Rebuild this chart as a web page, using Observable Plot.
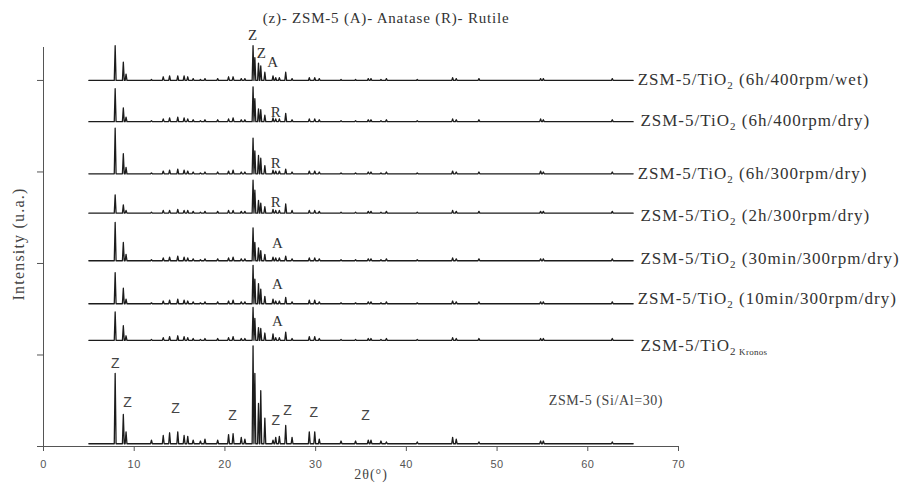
<!DOCTYPE html>
<html>
<head>
<meta charset="utf-8">
<script src="https://cdn.jsdelivr.net/npm/d3@7"></script>
<script src="https://cdn.jsdelivr.net/npm/@observablehq/plot@0.6"></script>
<style>
  html, body { margin: 0; padding: 0; background: #fff; }
  #chart svg { display: block; }
</style>
</head>
<body>
<div id="chart"></div>
<script>
// 2θ positions of the reflections
const peakPos = [7.9, 8.8, 9.1, 11.9, 13.2, 13.9, 14.8, 15.5, 15.9, 16.5, 17.3, 17.8, 19.2, 20.4, 20.9, 21.8, 22.2,
  23.1, 23.3, 23.7, 23.95, 24.4, 25.3, 25.6, 26.0, 26.7, 27.4, 29.3, 29.9, 30.4, 32.8, 34.4, 35.8, 36.1, 37.2, 37.8,
  41.2, 45.1, 45.5, 48.0, 54.8, 55.1, 62.7];

// peak heights (a.u., 100 = one y tick step) per sample
const hWet      = [38,20,7,1,4,5,5,5,4,2,1,2,2,4,4,2,2,38,25,19,16,9,5,3,3,9,2,3,3,2,1,1,2,2,1,2,1,3,2,2,2,2,2];
const hDry400   = [36,15,5,1,3,4,5,4,3,2,1,2,2,3,4,2,2,38,25,14,13,7,4,3,3,9,2,3,3,2,1,1,2,2,1,2,1,3,2,2,3,2,2];
const hDry300   = [50,22,7,1,3,4,5,4,3,2,1,2,2,3,4,2,2,39,25,20,17,9,4,3,3,5,2,3,3,2,1,1,2,2,1,2,1,3,2,2,3,2,2];
const h2h       = [20,9,3,1,3,3,4,3,3,2,1,2,2,3,3,2,2,36,25,14,11,7,4,3,3,10,3,3,3,2,1,1,2,2,1,2,1,3,2,2,2,2,2];
const h30min    = [42,20,7,1,3,4,5,4,3,2,1,2,2,3,4,2,2,36,20,14,11,7,4,3,3,5,2,3,3,2,1,1,2,2,1,2,1,3,2,2,2,2,2];
const h10min    = [34,17,5,1,3,4,5,4,3,2,1,2,2,3,4,2,2,42,27,22,16,8,5,3,3,7,2,4,4,2,1,1,2,2,1,2,1,3,2,2,2,2,2];
const hKronos   = [31,16,5,1,3,4,5,4,3,2,1,2,2,3,4,2,2,36,24,14,13,8,7,3,3,9,2,4,4,2,1,1,2,2,1,2,1,3,2,2,2,2,2];
const hZSM5     = [77,32,13,4,9,12,13,9,8,4,3,5,4,10,11,7,5,107,77,44,58,28,4,7,8,20,7,13,13,5,3,3,4,4,3,2,2,7,5,2,3,3,2];

const sampleHeights = [hWet, hDry400, hDry300, h2h, h30min, h10min, hKronos, hZSM5];
const sampleOffsets = [400, 355, 298, 255, 203, 156, 116, 3];
const sampleLabels = [
  "ZSM-5/TiO2 (6h/400rpm/wet)",
  "ZSM-5/TiO2 (6h/400rpm/dry)",
  "ZSM-5/TiO2 (6h/300rpm/dry)",
  "ZSM-5/TiO2 (2h/300rpm/dry)",
  "ZSM-5/TiO2 (30min/300rpm/dry)",
  "ZSM-5/TiO2 (10min/300rpm/dry)",
  "ZSM-5/TiO2 Kronos",
  "ZSM-5 (Si/Al=30)"
];
const labelX = [65.5, 65.8, 65.5, 65.8, 65.8, 65.5, 65.8, 55.7];
const labelY = [401, 356, 298, 252, 205, 162, 110, 50];

const scanStart = 5, scanEnd = 65;

// phase annotations
const phaseLetters = ["Z", "Z", "A", "R", "R", "R", "A", "A", "A"];
const phaseX = [23.04, 24.0, 25.25, 25.6, 25.6, 25.6, 25.8, 25.8, 25.8];
const phaseY = [449, 430, 420, 365, 310, 267, 222, 177, 137];
const zLetters = ["Z", "Z", "Z", "Z", "Z", "Z", "Z", "Z"];
const zX = [7.9, 9.26, 14.55, 20.84, 25.6, 26.9, 29.8, 35.5];
const zY = [91, 48, 42, 34, 28, 39, 37, 34];

const xTicks = [0, 10, 20, 30, 40, 50, 60, 70];
const yTicks = [0, 100, 200, 300, 400];
const titleText = "(z)- ZSM-5 (A)- Anatase (R)- Rutile";
const xLabel = "2θ(°)";
const yLabel = "Intensity (u.a.)";

// build the stick-profile polylines from the peak table
const hw = 0.1;
const rows = [];
sampleHeights.forEach((hs, s) => {
  const base = sampleOffsets[s];
  rows.push({s, x: scanStart, y: base});
  peakPos.forEach((p, i) => {
    rows.push({s, x: p - hw, y: base});
    rows.push({s, x: p, y: base + hs[i]});
    rows.push({s, x: p + hw, y: base});
  });
  rows.push({s, x: scanEnd, y: base});
});

const labels = sampleLabels.map((t, i) => ({t, x: labelX[i], y: labelY[i], i}));
const phases = phaseLetters.map((t, i) => ({t, x: phaseX[i], y: phaseY[i]}));
const zs = zLetters.map((t, i) => ({t, x: zX[i], y: zY[i]}));

const serif = "'Liberation Serif', 'DejaVu Serif', serif";
const sans = "'Liberation Sans', Arial, sans-serif";

const chart = Plot.plot({
  width: 902,
  height: 484,
  marginLeft: 43,
  marginRight: 224,
  marginTop: 47,
  marginBottom: 38,
  style: {background: "#fff", fontFamily: sans},
  x: {domain: [0, 70]},
  y: {domain: [0, 436]},
  marks: [
    Plot.ruleY([0], {x1: 0, x2: 70, stroke: "#555", strokeWidth: 1}),
    Plot.ruleX([0], {y1: 0, y2: 436, stroke: "#555", strokeWidth: 1}),
    Plot.axisX({ticks: xTicks, tickSize: 5, tickPadding: 9, fontSize: 11, label: null, stroke: "#555", fill: "#555"}),
    Plot.axisY({ticks: yTicks, tickSize: 6, tickFormat: () => "", label: null, stroke: "#555"}),
    Plot.line(rows, {x: "x", y: "y", z: "s", stroke: "#1c1c1c", strokeWidth: 1.3, curve: "linear"}),
    Plot.text(labels.filter(d => d.i < 7), {x: "x", y: "y", text: "t", textAnchor: "start", fontSize: 17, fill: "#333", fontFamily: serif}),
    Plot.text(labels.filter(d => d.i === 7), {x: "x", y: "y", text: "t", textAnchor: "start", fontSize: 14, fill: "#444", fontFamily: serif}),
    Plot.text(phases, {x: "x", y: "y", text: "t", fontSize: 15, fill: "#333", fontFamily: serif}),
    Plot.text(zs, {x: "x", y: "y", text: "t", fontSize: 14, fill: "#444", fontFamily: sans}),
    Plot.text([titleText], {frameAnchor: "top", text: d => d, dx: 25, dy: -35, fontSize: 15, fill: "#333", fontFamily: serif}),
    Plot.text([xLabel], {frameAnchor: "bottom", text: d => d, dx: 10, dy: 32, fontSize: 14, fill: "#444", fontFamily: serif}),
    Plot.text([yLabel], {frameAnchor: "left", textAnchor: "middle", text: d => d, rotate: -90, dx: -25, dy: -3, fontSize: 16, fill: "#444", fontFamily: serif})
  ]
});

document.getElementById("chart").appendChild(chart);

// letter spacing for the wide-set fonts of the original
chart.querySelectorAll("text").forEach(t => {
  const txt = t.textContent;
  if (txt.includes("ZSM-5") && txt !== titleText) t.setAttribute("letter-spacing", txt.includes("Si/Al") ? "0.6" : "1");
  if (txt === titleText) t.setAttribute("letter-spacing", "0.8");
  if (txt === yLabel) t.setAttribute("letter-spacing", "1.2");
  if (txt === xLabel) t.setAttribute("letter-spacing", "1");
  if (/^\d+$/.test(txt)) t.setAttribute("letter-spacing", "0.5");
});

// subscripts for TiO2 and Kronos
const NS = "http://www.w3.org/2000/svg";
chart.querySelectorAll("text").forEach(t => {
  const txt = t.textContent;
  const k = txt.indexOf("TiO2");
  if (k < 0) return;
  const before = txt.slice(0, k + 3);
  const after = txt.slice(k + 4);
  while (t.firstChild) t.removeChild(t.firstChild);
  const a = document.createElementNS(NS, "tspan"); a.textContent = before; t.appendChild(a);
  const sub = document.createElementNS(NS, "tspan"); sub.textContent = "2";
  sub.setAttribute("font-size", "11"); sub.setAttribute("dy", "4"); t.appendChild(sub);
  if (after.trim() === "Kronos") {
    const kr = document.createElementNS(NS, "tspan"); kr.textContent = " Kronos";
    kr.setAttribute("font-size", "9"); kr.setAttribute("dy", "0"); kr.setAttribute("letter-spacing", "0.3"); t.appendChild(kr);
  } else {
    const r = document.createElementNS(NS, "tspan"); r.textContent = after;
    r.setAttribute("dy", "-4"); t.appendChild(r);
  }
});
</script>
</body>
</html>
